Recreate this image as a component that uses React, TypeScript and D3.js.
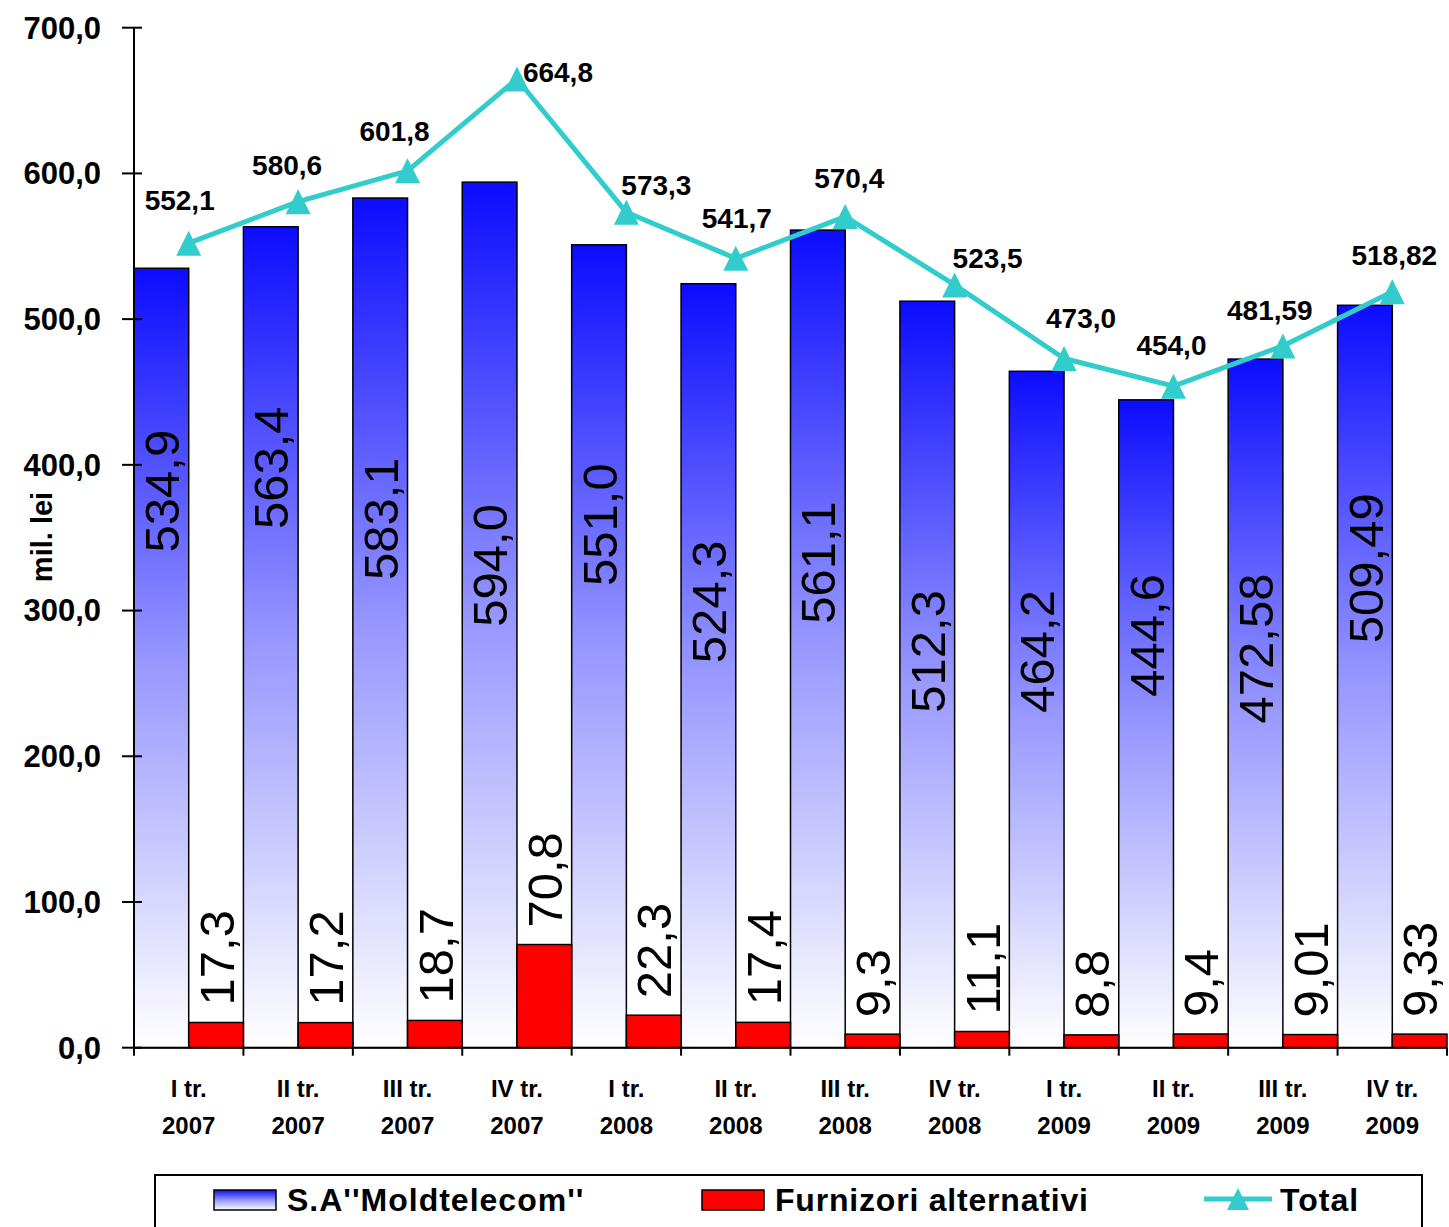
import React from "react";
import * as d3 from "d3";

const categories = [
  ["I tr.", "2007"], ["II tr.", "2007"], ["III tr.", "2007"], ["IV tr.", "2007"],
  ["I tr.", "2008"], ["II tr.", "2008"], ["III tr.", "2008"], ["IV tr.", "2008"],
  ["I tr.", "2009"], ["II tr.", "2009"], ["III tr.", "2009"], ["IV tr.", "2009"],
];
const moldtelecom = [534.9, 563.4, 583.1, 594.0, 551.0, 524.3, 561.1, 512.3, 464.2, 444.6, 472.58, 509.49];
const alternativi = [17.3, 17.2, 18.7, 70.8, 22.3, 17.4, 9.3, 11.1, 8.8, 9.4, 9.01, 9.33];
const total = [552.1, 580.6, 601.8, 664.8, 573.3, 541.7, 570.4, 523.5, 473.0, 454.0, 481.59, 518.82];
const yTicks = [0, 100, 200, 300, 400, 500, 600, 700];

// label placement (value units for blue labels, px offsets for total labels)
const blueLabelCenter = [382, 398, 363, 331, 359, 306, 333, 272, 272, 283, 274, 329];
const totalLabelDx = [-9, -11, -13, 41, 30, 1, 4, 33, 17, -2, -13, 2];
const totalLabelDy = [-43, -36, -40, -7, -27, -40, -38, -27, -40, -41, -36, -37];

const fmt = (v: number) => {
  const one = Math.abs(Math.round(v * 10) - v * 10) < 1e-6;
  return (one ? v.toFixed(1) : v.toFixed(2)).replace(".", ",");
};

const W = 1449;
const H = 1227;
const FONT = "'Liberation Sans', Arial, sans-serif";
const TEAL = "#33CCCC";

export default function App() {
  const x = d3.scaleBand<number>().domain(d3.range(categories.length)).range([134, 1447]).padding(0);
  const y = d3.scaleLinear().domain([0, 700]).range([1047.7, 27.7]);
  const bw = x.bandwidth();
  const cx = (i: number) => (x(i) as number) + bw / 2;
  const line = d3.line<number>().x((_, i) => cx(i)).y((d) => y(d));
  const tri = (px: number, py: number, s = 25) =>
    `M${px},${py - s / 2}L${px + s / 2},${py + s / 2}L${px - s / 2},${py + s / 2}Z`;

  return (
    <svg width={W} height={H} style={{ position: "absolute", left: 0, top: 0, display: "block", background: "#fff" }} fontFamily={FONT}>
      <defs>
        <linearGradient id="blueGrad" x1="0" y1="0" x2="0" y2="1">
          <stop offset="0" stopColor="#0c0cff" />
          <stop offset="0.5" stopColor="#9696ff" />
          <stop offset="1" stopColor="#ffffff" />
        </linearGradient>
      </defs>
      <rect width={W} height={H} fill="#fff" />

      {/* bars */}
      {moldtelecom.map((v, i) => (
        <rect key={"b" + i} x={x(i)} y={y(v)} width={bw / 2} height={y(0) - y(v)}
          fill="url(#blueGrad)" stroke="#000" strokeWidth={1.5} />
      ))}
      {alternativi.map((v, i) => (
        <rect key={"r" + i} x={cx(i)} y={y(v)} width={bw / 2} height={y(0) - y(v)}
          fill="#ff0000" stroke="#000" strokeWidth={1.5} />
      ))}

      {/* axes */}
      <line x1={134} x2={134} y1={y(700)} y2={y(0)} stroke="#000" strokeWidth={2} />
      <line x1={134} x2={1447} y1={y(0)} y2={y(0)} stroke="#000" strokeWidth={2} />
      {yTicks.map((t) => (
        <g key={"yt" + t}>
          <line x1={122} x2={142} y1={y(t)} y2={y(t)} stroke="#000" strokeWidth={2} />
          <text x={101} y={y(t)} dy="0.35em" textAnchor="end" fontSize={31} fontWeight="bold" fill="#000">
            {fmt(t)}
          </text>
        </g>
      ))}
      {d3.range(categories.length + 1).map((i) => {
        const xx = i < categories.length ? (x(i) as number) : 1447;
        return <line key={"xt" + i} x1={xx} x2={xx} y1={y(0)} y2={y(0) + 8} stroke="#000" strokeWidth={2} />;
      })}
      {categories.map((c, i) => (
        <text key={"xl" + i} x={cx(i)} textAnchor="middle" fontSize={24} fontWeight="bold" fill="#000">
          <tspan x={cx(i)} y={1097}>{c[0]}</tspan>
          <tspan x={cx(i)} y={1134}>{c[1]}</tspan>
        </text>
      ))}
      <text transform={`translate(52,537) rotate(-90)`} textAnchor="middle" fontSize={29} fontWeight="bold" fill="#000">
        mil. lei
      </text>

      {/* bar labels */}
      {moldtelecom.map((v, i) => (
        <text key={"bl" + i} transform={`translate(${x(i)! + bw / 4},${y(blueLabelCenter[i])}) rotate(-90)`}
          textAnchor="middle" dy="0.36em" fontSize={49} fill="#000">
          {fmt(v)}
        </text>
      ))}
      {alternativi.map((v, i) => (
        <text key={"rl" + i} transform={`translate(${cx(i) + bw / 4},${y(v) - 17}) rotate(-90)`}
          textAnchor="start" dy="0.36em" fontSize={49} fill="#000">
          {fmt(v)}
        </text>
      ))}

      {/* total line */}
      <path d={line(total) || ""} fill="none" stroke={TEAL} strokeWidth={5} strokeLinejoin="round" />
      {total.map((v, i) => (
        <path key={"m" + i} d={tri(cx(i), y(v))} fill={TEAL} />
      ))}
      {total.map((v, i) => (
        <text key={"tl" + i} x={cx(i) + totalLabelDx[i]} y={y(v) + totalLabelDy[i]} dy="0.35em"
          textAnchor="middle" fontSize={28} fontWeight="bold" fill="#000">
          {fmt(v)}
        </text>
      ))}

      {/* legend */}
      <rect x={155} y={1175} width={1267} height={80} fill="#fff" stroke="#000" strokeWidth={2} />
      <rect x={214} y={1190} width={62} height={20} fill="url(#blueGrad)" stroke="#000" strokeWidth={1.5} />
      <text x={287} y={1211} fontSize={32} fontWeight="bold" letterSpacing={1} fill="#000">S.A''Moldtelecom''</text>
      <rect x={702} y={1190} width={62} height={20} fill="#ff0000" stroke="#000" strokeWidth={1.5} />
      <text x={775} y={1211} fontSize={32} fontWeight="bold" letterSpacing={0.8} fill="#000">Furnizori alternativi</text>
      <line x1={1204} x2={1272} y1={1199} y2={1199} stroke={TEAL} strokeWidth={5} />
      <path d={tri(1238, 1199, 22)} fill={TEAL} />
      <text x={1280} y={1211} fontSize={32} fontWeight="bold" letterSpacing={1} fill="#000">Total</text>
    </svg>
  );
}
